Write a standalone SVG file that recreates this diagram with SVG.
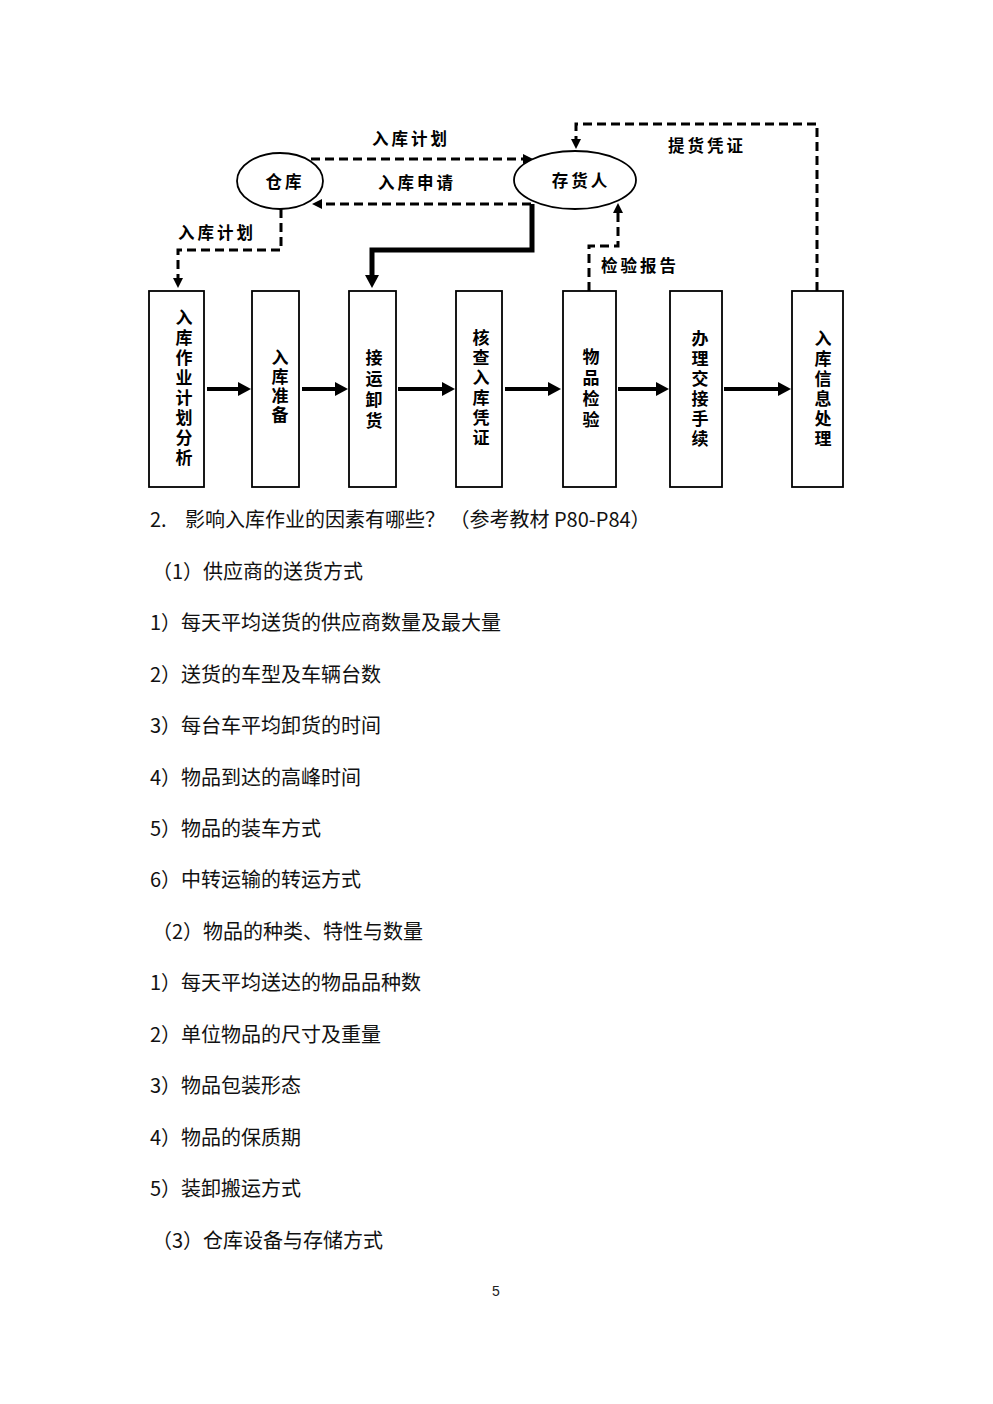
<svg xmlns="http://www.w3.org/2000/svg" width="993" height="1404" viewBox="0 0 993 1404">
<style>
.node{fill:#fff;stroke:#000;stroke-width:1.8}
.lbl{font-family:"Noto Sans CJK SC","Noto Sans CJK JP",sans-serif;font-weight:bold;font-size:16.5px;letter-spacing:3px;fill:#000;text-anchor:middle;dominant-baseline:central}
.vt{font-family:"Noto Sans CJK SC","Noto Sans CJK JP",sans-serif;font-weight:bold;font-size:17px;fill:#000;text-anchor:middle}
.dash{fill:none;stroke:#000;stroke-width:3;stroke-dasharray:9 5}
.solid{fill:none;stroke:#000;stroke-width:4}
.thick{fill:none;stroke:#000;stroke-width:5}
.body{font-family:"Noto Sans CJK SC","Noto Sans CJK JP",sans-serif;font-size:20px;fill:#111}
</style>
<defs>
<marker id="ah" markerUnits="userSpaceOnUse" markerWidth="10" markerHeight="10" refX="0" refY="5" orient="auto"><path d="M0,0 L10,5 L0,10 z" fill="#000"/></marker>
<marker id="ahb" markerUnits="userSpaceOnUse" markerWidth="13" markerHeight="14" refX="0" refY="7" orient="auto"><path d="M0,0 L13,7 L0,14 z" fill="#000"/></marker>
</defs>
<rect width="993" height="1404" fill="#fff"/>

<g id="connectors">
<path class="dash" d="M311,159 H523" marker-end="url(#ah)"/>
<path class="dash" d="M531,204 H322" marker-end="url(#ah)"/>
<path class="dash" d="M281,209 V250 H178 V278" marker-end="url(#ah)"/>
<path class="thick" d="M532,204 V250 H372 V275" marker-end="url(#ahb)"/>
<path class="dash" d="M589,291 V246 H618 V213" marker-end="url(#ah)"/>
<path class="dash" d="M817,291 V124 H576 V139" marker-end="url(#ah)"/>
<path class="solid" d="M207,389 H238" marker-end="url(#ahb)"/>
<path class="solid" d="M302,389 H335" marker-end="url(#ahb)"/>
<path class="solid" d="M398,389 H442" marker-end="url(#ahb)"/>
<path class="solid" d="M505,389 H548" marker-end="url(#ahb)"/>
<path class="solid" d="M618,389 H656" marker-end="url(#ahb)"/>
<path class="solid" d="M724,389 H778" marker-end="url(#ahb)"/>
<text class="lbl" x="411" y="138">入库计划</text>
<text class="lbl" x="417" y="182">入库申请</text>
<text class="lbl" x="217" y="232">入库计划</text>
<text class="lbl" x="640" y="265">检验报告</text>
<text class="lbl" x="707" y="145">提货凭证</text>
</g>

<g id="warehouse">
<ellipse class="node" cx="280" cy="181" rx="43" ry="28"/>
<text class="lbl" x="285" y="181">仓库</text>
</g>
<g id="depositor">
<ellipse class="node" cx="575" cy="180" rx="61" ry="29"/>
<text class="lbl" x="581" y="180">存货人</text>
</g>

<g id="n1">
<rect class="node" x="149" y="291" width="55" height="196"/>
<text class="vt" x="184" y="389" writing-mode="vertical-rl" letter-spacing="3">入库作业计划分析</text>
</g>
<g id="n2">
<rect class="node" x="252" y="291" width="47" height="196"/>
<text class="vt" x="280" y="387" writing-mode="vertical-rl" letter-spacing="2">入库准备</text>
</g>
<g id="n3">
<rect class="node" x="349" y="291" width="47" height="196"/>
<text class="vt" x="374" y="391" writing-mode="vertical-rl" letter-spacing="4">接运卸货</text>
</g>
<g id="n4">
<rect class="node" x="456" y="291" width="46" height="196"/>
<text class="vt" x="481" y="389" writing-mode="vertical-rl" letter-spacing="3">核查入库凭证</text>
</g>
<g id="n5">
<rect class="node" x="563" y="291" width="53" height="196"/>
<text class="vt" x="591" y="390" writing-mode="vertical-rl" letter-spacing="4">物品检验</text>
</g>
<g id="n6">
<rect class="node" x="670" y="291" width="52" height="196"/>
<text class="vt" x="700" y="390" writing-mode="vertical-rl" letter-spacing="3">办理交接手续</text>
</g>
<g id="n7">
<rect class="node" x="792" y="291" width="51" height="196"/>
<text class="vt" x="823" y="390" writing-mode="vertical-rl" letter-spacing="3">入库信息处理</text>
</g>

<g id="body">
<text class="body" x="150" y="527">2.</text>
<text class="body" x="185" y="527">影响入库作业的因素有哪些？ （参考教材 P80-P84）</text>
<text class="body" x="152" y="579">（1）供应商的送货方式</text>
<text class="body" x="150" y="630">1）每天平均送货的供应商数量及最大量</text>
<text class="body" x="150" y="682">2）送货的车型及车辆台数</text>
<text class="body" x="150" y="733">3）每台车平均卸货的时间</text>
<text class="body" x="150" y="785">4）物品到达的高峰时间</text>
<text class="body" x="150" y="836">5）物品的装车方式</text>
<text class="body" x="150" y="887">6）中转运输的转运方式</text>
<text class="body" x="152" y="939">（2）物品的种类、特性与数量</text>
<text class="body" x="150" y="990">1）每天平均送达的物品品种数</text>
<text class="body" x="150" y="1042">2）单位物品的尺寸及重量</text>
<text class="body" x="150" y="1093">3）物品包装形态</text>
<text class="body" x="150" y="1145">4）物品的保质期</text>
<text class="body" x="150" y="1196">5）装卸搬运方式</text>
<text class="body" x="152" y="1248">（3）仓库设备与存储方式</text>
<text x="496" y="1296" font-family="Liberation Sans, sans-serif" font-size="14" text-anchor="middle" fill="#222">5</text>
</g>
</svg>
